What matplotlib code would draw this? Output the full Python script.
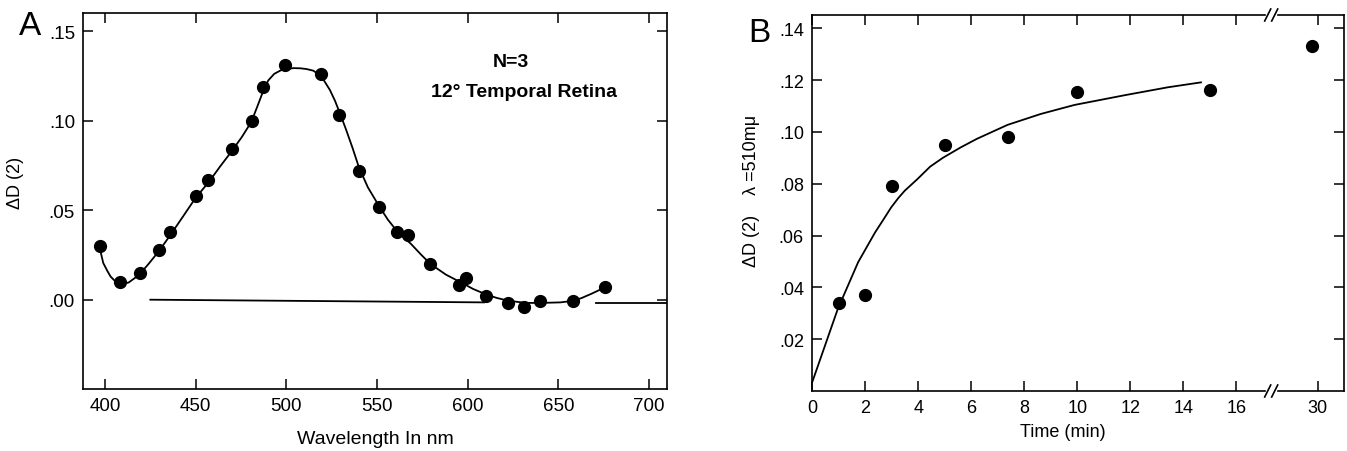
import numpy as np
import matplotlib
matplotlib.use('Agg')
import matplotlib.pyplot as plt
from matplotlib.lines import Line2D

plt.rcParams['font.family'] = ['Liberation Sans', 'DejaVu Sans']

# ---------------------------------------------------------------------------
# Panel A data: difference spectrum
# ---------------------------------------------------------------------------
WAVELENGTH_NM = [397, 408, 419, 430, 436, 450, 457, 470, 481, 487, 499, 519,
                 529, 540, 551, 561, 567, 579, 595, 599, 610, 622, 631, 640,
                 658, 676]
DELTA_D_A = [0.030, 0.010, 0.015, 0.028, 0.038, 0.058, 0.067, 0.084, 0.100,
             0.119, 0.131, 0.126, 0.103, 0.072, 0.052, 0.038, 0.036, 0.020,
             0.008, 0.012, 0.002, -0.002, -0.004, -0.001, -0.001, 0.007]

# smooth curve drawn through the points
CURVE_A_NM = [397.6, 399.0, 401.2, 403.0, 405.3, 407.5, 409.6, 413.0, 418.7,
              424.0, 429.9, 436.4, 443.0, 449.8, 457.4, 463.5, 470.1, 475.5,
              480.6, 484.0, 487.3, 490.0, 493.3, 497.0, 500.5, 504.0, 507.7,
              511.0, 514.8, 518.0, 520.8, 524.0, 526.8, 529.8, 532.8, 536.5,
              540.0, 545.0, 551.2, 556.0, 561.5, 568.7, 574.0, 579.4, 588.0,
              596.2, 603.0, 610.5, 616.0, 622.5, 632.1, 640.4, 651.2, 658.4,
              663.0, 668.0, 675.8]
CURVE_A_D = [0.0265, 0.0205, 0.0162, 0.0130, 0.0106, 0.0093, 0.0088, 0.0096,
             0.0138, 0.0200, 0.0274, 0.0367, 0.0465, 0.0567, 0.0660, 0.0745,
             0.0833, 0.0910, 0.0992, 0.1080, 0.1168, 0.1225, 0.1262, 0.1282,
             0.1290, 0.1294, 0.1293, 0.1289, 0.1280, 0.1258, 0.1224, 0.1172,
             0.1112, 0.1035, 0.0954, 0.0848, 0.0740, 0.0627, 0.0522, 0.0447,
             0.0377, 0.0312, 0.0255, 0.0200, 0.0140, 0.0097, 0.0060, 0.0028,
             0.0010, -0.0006, -0.0018, -0.0018, -0.0015, -0.0006, 0.0010,
             0.0032, 0.0069]

# baseline (two pieces, gap where the curve runs under it)
BASE1_NM = [425, 609]
BASE1_D = [0.0000, -0.0015]
BASE2_NM = [671, 710]
BASE2_D = [-0.0018, -0.0018]

A_XTICKS = [400, 450, 500, 550, 600, 650, 700]
A_YTICKS = [0.00, 0.05, 0.10, 0.15]
A_YLABELS = ['.00', '.05', '.10', '.15']

# ---------------------------------------------------------------------------
# Panel B data: time course at 510 nm
# ---------------------------------------------------------------------------
TIME_MIN = [1, 2, 3, 5, 7.4, 10, 15, 29.8]
DELTA_D_B = [0.034, 0.037, 0.079, 0.095, 0.098, 0.1155, 0.116, 0.133]

CURVE_B_T = [0.0, 0.96, 1.73, 2.37, 2.75, 2.98, 3.25, 3.49, 3.97, 4.45, 4.93,
             5.6, 6.21, 7.37, 8.62, 9.90, 11.82, 13.42, 14.67]
CURVE_B_D = [0.0035, 0.0316, 0.0497, 0.0612, 0.0672, 0.0709, 0.0745, 0.0773,
             0.0818, 0.0866, 0.0900, 0.0940, 0.0973, 0.1027, 0.1069, 0.1104,
             0.1142, 0.1172, 0.1191]

B_XTICKS = [0, 2, 4, 6, 8, 10, 12, 14, 16]
B_YTICKS = [0.02, 0.04, 0.06, 0.08, 0.10, 0.12, 0.14]
B_YLABELS = ['.02', '.04', '.06', '.08', '.10', '.12', '.14']

# ---------------------------------------------------------------------------
W, H = 1347, 452
fig = plt.figure(figsize=(W / 100, H / 100), dpi=100)
fig.patch.set_facecolor('white')


def px_rect(x0, y0, x1, y1):
    return [x0 / W, 1 - y1 / H, (x1 - x0) / W, (y1 - y0) / H]


def fig_text(x, y, s, **kw):
    fig.text(x / W, 1 - y / H, s, **kw)


LW = 1.2
TICK = dict(direction='in', length=7, width=1.1, pad=6)

# ===== Panel A =====
ax_a = fig.add_axes(px_rect(83.3, 14, 667.3, 390))
ax_a.plot(CURVE_A_NM, CURVE_A_D, color='black', lw=1.3)
ax_a.plot(BASE1_NM, BASE1_D, color='black', lw=1.3)
ax_a.plot(BASE2_NM, BASE2_D, color='black', lw=1.3)
ax_a.plot(WAVELENGTH_NM, DELTA_D_A, 'o', color='black', ms=8.5)
ax_a.set_xlim(388.0, 710.1)
ax_a.set_ylim(-0.0499, 0.1602)
ax_a.set_xticks(A_XTICKS)
ax_a.set_yticks(A_YTICKS)
ax_a.set_yticklabels(A_YLABELS)
ax_a.tick_params(top=True, right=True, labelsize=13.5, **TICK)
for sp in ax_a.spines.values():
    sp.set_linewidth(LW)

fig_text(19, 35, 'A', fontsize=24, ha='left', va='baseline')
fig_text(511, 63, 'N=3', fontsize=14, fontweight='bold', ha='center', va='center')
fig_text(524, 93, '12° Temporal Retina', fontsize=14, fontweight='bold',
         ha='center', va='center')
fig_text(375, 440, 'Wavelength In nm', fontsize=14, ha='center', va='center')
fig_text(15, 183, 'ΔD (2)', fontsize=13, rotation=90, ha='center', va='center')

# ===== Panel B (broken x axis) =====
ax_b = fig.add_axes(px_rect(812.3, 16, 1271.7, 392))
ax_b2 = fig.add_axes(px_rect(1271.7, 16, 1344, 392), sharey=ax_b)

t = np.array(TIME_MIN)
d = np.array(DELTA_D_B)
near = t < 20
ax_b.plot(CURVE_B_T, CURVE_B_D, color='black', lw=1.3)
ax_b.plot(t[near], d[near], 'o', color='black', ms=8.5)
ax_b2.plot(t[~near], d[~near], 'o', color='black', ms=8.5)

ax_b.set_xlim(0, 17.34)
ax_b2.set_xlim(28.26, 30.99)
ax_b.set_ylim(0, 0.1451)
ax_b.set_xticks(B_XTICKS)
ax_b.set_yticks(B_YTICKS)
ax_b.set_yticklabels(B_YLABELS)
ax_b2.set_xticks([30])

ax_b.tick_params(top=True, right=False, labelsize=13, **TICK)
ax_b2.tick_params(top=True, right=True, left=False, labelleft=False,
                  labelsize=13, **TICK)

ax_b.spines['right'].set_visible(False)
ax_b2.spines['left'].set_visible(False)
for sp in list(ax_b.spines.values()) + list(ax_b2.spines.values()):
    sp.set_linewidth(LW)
for side in ('top', 'bottom'):
    ax_b.spines[side].set_bounds(0, 17.1)
    ax_b2.spines[side].set_bounds(28.5, 30.99)

# break marks "//" at top and bottom
bx = ax_b.get_position().x1 * W
for by in (ax_b.get_position().y0, ax_b.get_position().y1):
    by_px = (1 - by) * H
    for off in (-4, 3):
        x0 = bx + off - 3
        x1 = bx + off + 3
        fig.add_artist(Line2D([x0 / W, x1 / W],
                              [1 - (by_px + 6) / H, 1 - (by_px - 6) / H],
                              color='black', lw=LW, transform=fig.transFigure))

fig_text(748, 42, 'B', fontsize=24, ha='left', va='baseline')
fig_text(1063, 433, 'Time (min)', fontsize=13, ha='center', va='center')
fig_text(752, 191, 'ΔD (2)    λ =510mμ', fontsize=13, rotation=90,
         ha='center', va='center')

fig.savefig('out.png', dpi=100, facecolor='white')
